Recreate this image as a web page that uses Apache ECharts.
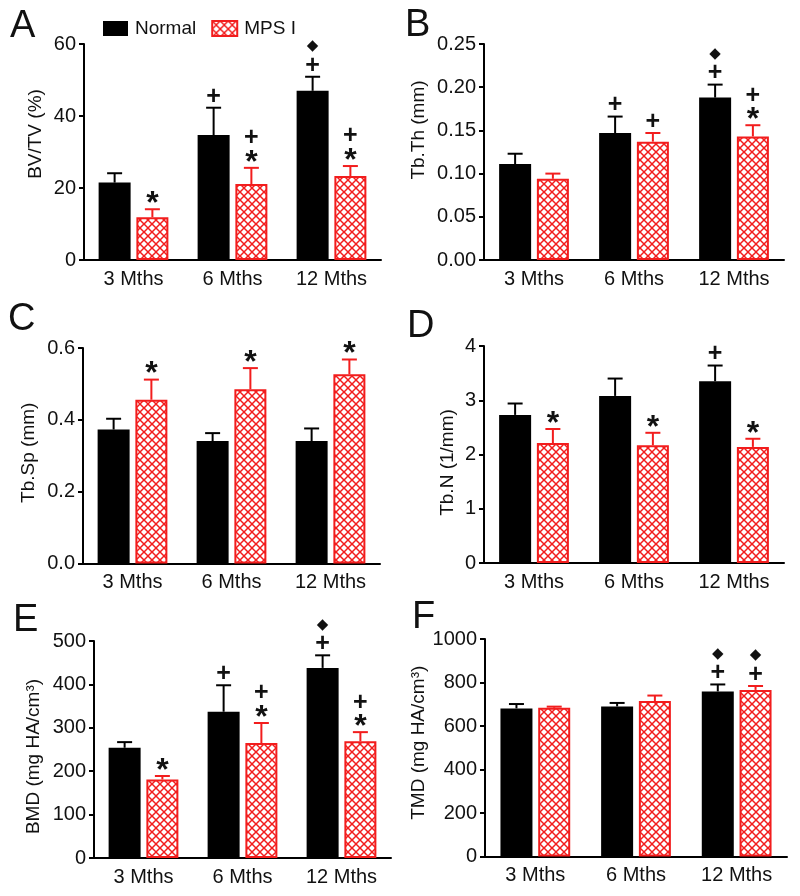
<!DOCTYPE html>
<html>
<head>
<meta charset="utf-8">
<script src="https://cdn.jsdelivr.net/npm/echarts@6/dist/echarts.min.js"></script>
<style>
html,body{margin:0;padding:0;background:#fff;}
#chart{width:800px;height:896px;}
</style>
</head>
<body>
<div id="chart"></div>
<script>
// ---------------- DATA ----------------
const categories = ['3 Mths', '6 Mths', '12 Mths'];
const groupNames = ['Normal', 'MPS I'];

// A: BV/TV (%)
const bvtvNormal = [21.5, 34.7, 47.0];
const bvtvNormalErr = [2.6, 7.6, 3.9];
const bvtvMps = [11.9, 21.1, 23.3];
const bvtvMpsErr = [2.2, 4.5, 2.8];
const bvtvNormalMarks = ['', '+', '+◆'];
const bvtvMpsMarks = ['*', '*+', '*+'];

// B: Tb.Th (mm)
const tbthNormal = [0.111, 0.147, 0.188];
const tbthNormalErr = [0.012, 0.019, 0.015];
const tbthMps = [0.094, 0.137, 0.143];
const tbthMpsErr = [0.006, 0.010, 0.013];
const tbthNormalMarks = ['', '+', '+◆'];
const tbthMpsMarks = ['', '+', '*+'];

// C: Tb.Sp (mm)
const tbspNormal = [0.373, 0.341, 0.341];
const tbspNormalErr = [0.030, 0.022, 0.035];
const tbspMps = [0.456, 0.485, 0.527];
const tbspMpsErr = [0.056, 0.059, 0.041];
const tbspNormalMarks = ['', '', ''];
const tbspMpsMarks = ['*', '*', '*'];

// D: Tb.N (1/mm)
const tbnNormal = [2.73, 3.08, 3.35];
const tbnNormalErr = [0.21, 0.32, 0.29];
const tbnMps = [2.21, 2.17, 2.14];
const tbnMpsErr = [0.26, 0.23, 0.15];
const tbnNormalMarks = ['', '', '+'];
const tbnMpsMarks = ['*', '*', '*'];

// E: BMD (mg HA/cm3)
const bmdNormal = [254, 337, 438];
const bmdNormalErr = [13, 61, 29];
const bmdMps = [181, 265, 269];
const bmdMpsErr = [8, 46, 21];
const bmdNormalMarks = ['', '+', '+◆'];
const bmdMpsMarks = ['*', '*+', '*+'];

// F: TMD (mg HA/cm3)
const tmdNormal = [681, 690, 759];
const tmdNormalErr = [20, 16, 32];
const tmdMps = [684, 715, 766];
const tmdMpsErr = [5, 25, 18];
const tmdNormalMarks = ['', '', '+◆'];
const tmdMpsMarks = ['', '', '+◆'];

// y-axis ranges / ticks
const yMax = [60, 0.25, 0.6, 4, 500, 1000];
const yStep = [20, 0.05, 0.2, 1, 100, 200];
const yDecimals = [0, 2, 1, 0, 0, 0];
const yNames = ['BV/TV (%)', 'Tb.Th (mm)', 'Tb.Sp (mm)', 'Tb.N (1/mm)', 'BMD (mg HA/cm³)', 'TMD (mg HA/cm³)'];
const panelLetters = ['A', 'B', 'C', 'D', 'E', 'F'];

// ---------------- STYLE / LAYOUT ----------------
const FONT = '"Liberation Sans", Arial, Helvetica, sans-serif';
const RED = '#f21d1d';
const INK = '#111';
const BAR_W = 32;
const GAP_RATIO = 0.18;
const OFF = BAR_W * (1 + GAP_RATIO) / 2;

const grids = [
  {left: 84, top: 44, width: 297, height: 216},
  {left: 484, top: 44, width: 300, height: 216},
  {left: 83, top: 348, width: 297, height: 215.5},
  {left: 484, top: 346, width: 300, height: 217},
  {left: 94, top: 641, width: 297, height: 217},
  {left: 485, top: 639, width: 302, height: 217.5}
];
const nameGaps = [39, 56, 45, 27, 51, 52];
const nameShift = [18, 22, 3, -8, -7, 5]; // + = up
const letterPos = [[10, 8], [405, 7], [8, 301], [407, 308], [13, 602], [412, 599]];

const panels = [
  [bvtvNormal, bvtvNormalErr, bvtvNormalMarks, bvtvMps, bvtvMpsErr, bvtvMpsMarks],
  [tbthNormal, tbthNormalErr, tbthNormalMarks, tbthMps, tbthMpsErr, tbthMpsMarks],
  [tbspNormal, tbspNormalErr, tbspNormalMarks, tbspMps, tbspMpsErr, tbspMpsMarks],
  [tbnNormal, tbnNormalErr, tbnNormalMarks, tbnMps, tbnMpsErr, tbnMpsMarks],
  [bmdNormal, bmdNormalErr, bmdNormalMarks, bmdMps, bmdMpsErr, bmdMpsMarks],
  [tmdNormal, tmdNormalErr, tmdNormalMarks, tmdMps, tmdMpsErr, tmdMpsMarks]
];

function makePattern() {
  const c = document.createElement('canvas');
  c.width = 8; c.height = 8;
  const g = c.getContext('2d');
  g.fillStyle = '#fff';
  g.fillRect(0, 0, 8, 8);
  g.strokeStyle = RED;
  g.lineWidth = 1.5;
  for (const d of [-8, 0, 8]) {
    g.beginPath(); g.moveTo(d, 0); g.lineTo(d + 8, 8); g.stroke();
    g.beginPath(); g.moveTo(d + 8, 0); g.lineTo(d, 8); g.stroke();
  }
  return c;
}
const pattern = {image: makePattern(), repeat: 'repeat'};

function markEl(ch, x, y) {
  if (ch === '◆') {
    return {type: 'text', x: x, y: y, style: {text: ch, fontSize: 15, fontFamily: '"DejaVu Sans", sans-serif', fill: INK, align: 'center', verticalAlign: 'middle'}};
  }
  if (ch === '*') {
    return {type: 'text', x: x, y: y + 7, style: {text: ch, fontSize: 32, fontWeight: 'bold', fontFamily: FONT, fill: INK, align: 'center', verticalAlign: 'middle'}};
  }
  return {type: 'text', x: x, y: y + 1, style: {text: ch, fontSize: 25, fontWeight: 'bold', fontFamily: FONT, fill: INK, align: 'center', verticalAlign: 'middle'}};
}

function errSeries(gi, name, vals, errs, marks, sign, color) {
  return {
    type: 'custom', name: name, xAxisIndex: gi, yAxisIndex: gi, z: 5, silent: true,
    data: vals.map((v, i) => [i, v, errs[i]]),
    renderItem: function (params, api) {
      const i = api.value(0), v = api.value(1), e = api.value(2);
      const p0 = api.coord([i, v]);
      const p1 = api.coord([i, v + e]);
      const x = p0[0] + sign * OFF;
      const children = [
        {type: 'line', shape: {x1: x, y1: p0[1], x2: x, y2: p1[1]}, style: {stroke: color, lineWidth: 2}},
        {type: 'line', shape: {x1: x - 7.5, y1: p1[1], x2: x + 7.5, y2: p1[1]}, style: {stroke: color, lineWidth: 2}}
      ];
      Array.from(marks[params.dataIndex]).forEach((ch, k) => {
        children.push(markEl(ch, x, p1[1] - 12 - k * 18.5));
      });
      return {type: 'group', children: children};
    }
  };
}

const xAxes = [], yAxes = [], series = [], titles = [];
panels.forEach((p, gi) => {
  xAxes.push({
    type: 'category', gridIndex: gi, data: categories,
    axisLine: {lineStyle: {color: '#000', width: 2}},
    axisTick: {alignWithLabel: true, length: 5, lineStyle: {color: '#000', width: 2}},
    axisLabel: {interval: 0, fontSize: 20, color: INK, margin: 9, fontFamily: FONT}
  });
  const sh = nameShift[gi];
  yAxes.push({
    type: 'value', gridIndex: gi, min: 0, max: yMax[gi], interval: yStep[gi],
    name: yNames[gi], nameLocation: 'middle', nameRotate: 90, nameGap: nameGaps[gi],
    nameTextStyle: {fontSize: 19, color: INK, fontFamily: FONT,
      padding: sh >= 0 ? [0, 0, 0, 2 * sh] : [0, -2 * sh, 0, 0]},
    axisLine: {show: true, lineStyle: {color: '#000', width: 2}},
    axisTick: {show: true, length: 5, lineStyle: {color: '#000', width: 2}},
    splitLine: {show: false},
    axisLabel: {fontSize: 20, color: INK, margin: 8, fontFamily: FONT,
      formatter: (v) => Number(v).toFixed(yDecimals[gi])}
  });
  series.push({
    type: 'bar', name: groupNames[0], xAxisIndex: gi, yAxisIndex: gi,
    data: p[0], barWidth: BAR_W, barGap: (GAP_RATIO * 100) + '%',
    itemStyle: {color: '#000'}, silent: true
  });
  series.push({
    type: 'bar', name: groupNames[1], xAxisIndex: gi, yAxisIndex: gi,
    data: p[3], barWidth: BAR_W, barGap: (GAP_RATIO * 100) + '%',
    itemStyle: {color: pattern, borderColor: RED, borderWidth: 2}, silent: true
  });
  series.push(errSeries(gi, groupNames[0], p[0], p[1], p[2], -1, '#000'));
  series.push(errSeries(gi, groupNames[1], p[3], p[4], p[5], 1, RED));
  titles.push({
    text: panelLetters[gi], left: letterPos[gi][0], top: letterPos[gi][1], padding: 0,
    textStyle: {fontSize: 38, fontWeight: 'normal', color: INK, fontFamily: FONT}
  });
});

const chart = echarts.init(document.getElementById('chart'), null, {renderer: 'canvas'});
chart.setOption({
  animation: false,
  backgroundColor: '#fff',
  textStyle: {fontFamily: FONT},
  title: titles,
  legend: {
    data: groupNames, left: 98, top: 14, itemWidth: 25, itemHeight: 15, itemGap: 15,
    icon: 'rect',
    textStyle: {fontSize: 19, color: INK, fontFamily: FONT, padding: [0, 0, 0, 2]}
  },
  grid: grids,
  xAxis: xAxes,
  yAxis: yAxes,
  series: series
});
</script>
</body>
</html>
